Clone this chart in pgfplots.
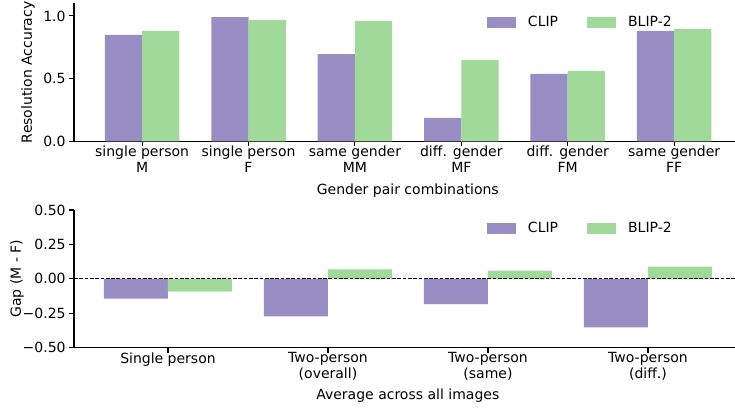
\documentclass[border=0pt]{standalone}
\usepackage{pgfplots}
\pgfplotsset{compat=1.18}
\usepackage{fontspec}
\setmainfont{DejaVu Sans}
\definecolor{clipc}{HTML}{998EC3}
\definecolor{blipc}{HTML}{A1D99B}
\pgfplotsset{
  myax/.style={
    scale only axis,
    width=661bp,
    font=\fontsize{14bp}{16bp}\selectfont,
    axis x line*=bottom, axis y line*=left,
    axis line style={-, line width=1.1bp, black},
    tick align=outside,
    major tick length=4.9bp,
    tick style={line width=1.1bp, black},
    xtick=data,
    xticklabel style={align=center, yshift=3.5bp},
    ybar, bar width=0.35,
    /pgf/number format/assume math mode=true,
    legend columns=2,
    legend image code/.code={\fill[##1] (0bp,-5.5bp) rectangle (29bp,5.5bp);},
    legend style={draw=none, fill=none, inner sep=0pt, outer sep=0pt,
      nodes={inner sep=0pt},
      /tikz/every even column/.append style={column sep=29bp},
      /tikz/every odd column/.append style={column sep=12bp}},
  }
}
\begin{document}
\begin{tikzpicture}
\useasboundingbox (0,0) rectangle (735bp,408bp);
% top axis
\begin{axis}[myax,
  at={(74bp,266.7bp)}, anchor=south west,
  height=137.9bp,
  xmin=-0.64, xmax=5.572, ymin=0, ymax=1.1,
  ytick={0,0.5,1.0}, yticklabels={0.0,0.5,1.0},
  xticklabels={{single person\\M},{single person\\F},{same gender\\MM},{diff. gender\\MF},{diff. gender\\FM},{same gender\\FF}},
  bar width=0.35,
  xlabel={Gender pair combinations},
  xlabel style={at={(axis description cs:0.505,-0.355)}, anchor=center},
  ylabel={Resolution Accuracy},
  ylabel style={at={(axis description cs:-0.0696,0.5)}, anchor=center, rotate=0},
  legend style={at={(axis description cs:0.6248,0.8615)}, anchor=west},
]
\addplot[fill=clipc, draw=none, bar shift=-0.175] coordinates {(0,0.848) (1,0.991) (2,0.696) (3,0.186) (4,0.537) (5,0.880)};
\addplot[fill=blipc, draw=none, bar shift=0.175] coordinates {(0,0.880) (1,0.967) (2,0.960) (3,0.648) (4,0.561) (5,0.896)};
\legend{CLIP,BLIP-2}
\end{axis}
% bottom axis
\begin{axis}[myax,
  at={(74bp,60.3bp)}, anchor=south west,
  height=137.7bp,
  xmin=-0.5875, xmax=3.544, ymin=-0.5, ymax=0.5,
  ytick={-0.5,-0.25,0,0.25,0.5}, yticklabels={−0.50,−0.25,0.00,0.25,0.50},
  xticklabels={{Single person},{Two-person\\(overall)},{Two-person\\(same)},{Two-person\\(diff.)}},
  bar width=0.4,
  xlabel={Average across all images},
  xlabel style={at={(axis description cs:0.505,-0.345)}, anchor=center},
  ylabel={Gap (M - F)},
  ylabel style={at={(axis description cs:-0.0862,0.5)}, anchor=center, rotate=0},
  legend style={at={(axis description cs:0.6248,0.8657)}, anchor=west},
]
\addplot[fill=clipc, draw=none, bar shift=-0.2] coordinates {(0,-0.143) (1,-0.272) (2,-0.184) (3,-0.352)};
\addplot[fill=blipc, draw=none, bar shift=0.2] coordinates {(0,-0.092) (1,0.068) (2,0.060) (3,0.089)};
\addplot[sharp plot, forget plot, black, line width=0.8bp, dash pattern=on 3.7bp off 1.6bp] coordinates {(-0.5875,0) (3.544,0)};
\legend{CLIP,BLIP-2}
\end{axis}
\end{tikzpicture}
\end{document}
